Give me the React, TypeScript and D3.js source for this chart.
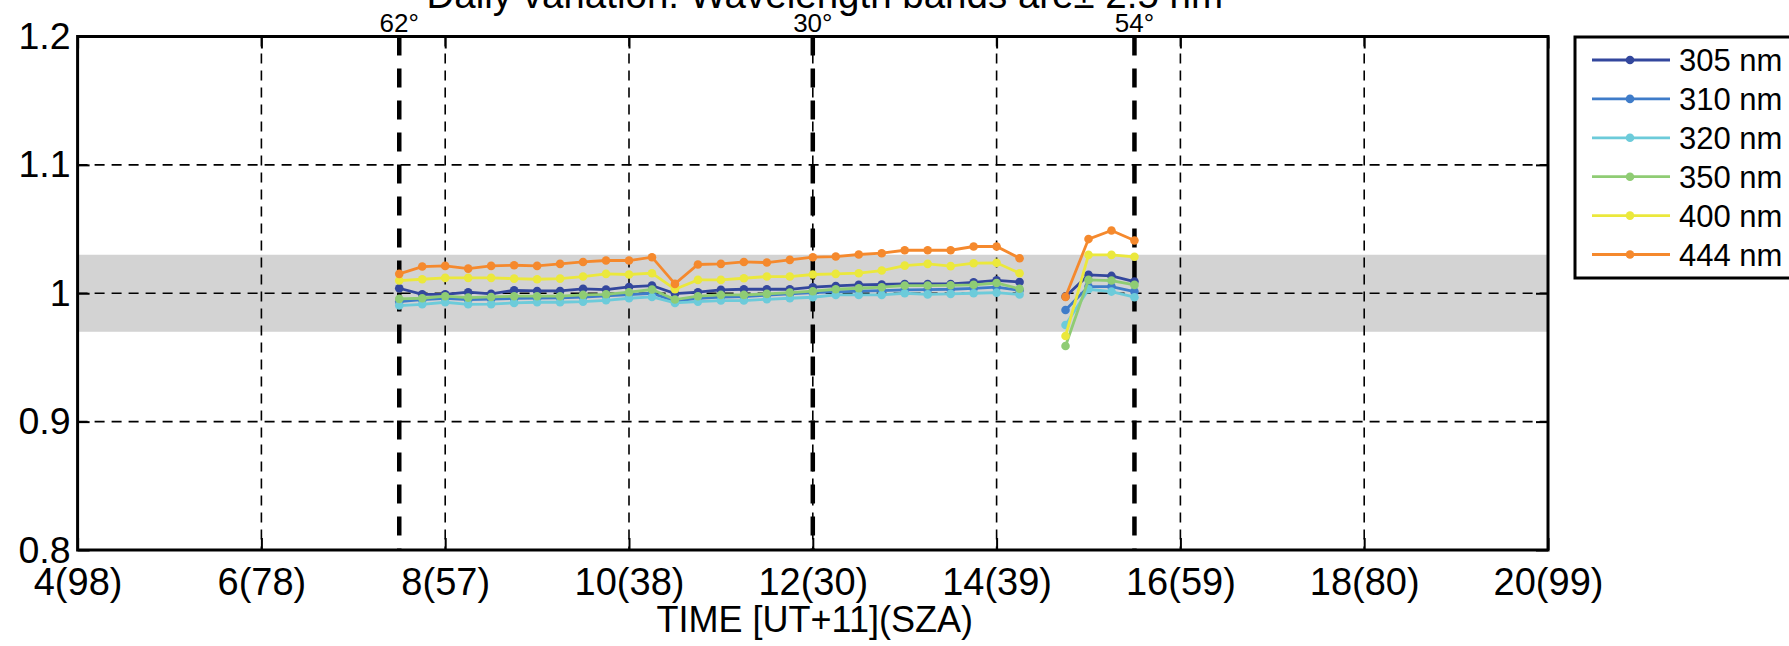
import React, { useEffect, useRef } from 'react'
import * as d3 from 'd3'

const W = 1789
const H = 646
const margin = { top: 36.5, right: 241, bottom: 96, left: 77.6 }
const FONT = '"Liberation Sans", Arial, Helvetica, sans-serif'

// local time of each scan, null value at 14.5 marks the gap between runs
const TIMES = [7.5, 7.75, 8, 8.25, 8.5, 8.75, 9, 9.25, 9.5, 9.75, 10, 10.25, 10.5, 10.75,
  11, 11.25, 11.5, 11.75, 12, 12.25, 12.5, 12.75, 13, 13.25, 13.5, 13.75, 14, 14.25,
  14.5, 14.75, 15, 15.25, 15.5]

const X_TICKS = [4, 6, 8, 10, 12, 14, 16, 18, 20]
const X_TICK_LABELS = ['4(98)', '6(78)', '8(57)', '10(38)', '12(30)', '14(39)', '16(59)', '18(80)', '20(99)']
const Y_TICKS = [0.8, 0.9, 1, 1.1, 1.2]
const SZA_TIMES = [7.5, 12, 15.5]
const SZA_LABELS = ['62°', '30°', '54°']
const BAND = [0.97, 1.03]

const NM_305 = [1.0039, 0.9992, 0.9992, 1.0008, 0.9995, 1.0023, 1.0018, 1.0018, 1.0034, 1.0029, 1.0049, 1.006, 0.9997, 1.0008,
  1.0026, 1.0031, 1.0031, 1.0031, 1.0047, 1.0057, 1.0065, 1.0068, 1.0072, 1.0072, 1.0072, 1.0085, 1.0101, 1.0087,
  null, 0.9975, 1.0143, 1.0135, 1.0091]
const NM_310 = [0.9935, 0.995, 0.996, 0.995, 0.9955, 0.996, 0.9962, 0.9965, 0.997, 0.998, 0.999, 1.0, 0.994, 0.996,
  0.997, 0.9974, 0.9985, 0.9995, 1.0005, 1.001, 1.0016, 1.0021, 1.0026, 1.0028, 1.0031, 1.0038, 1.0047, 1.0023,
  null, 0.987, 1.0052, 1.0052, 1.0013]
const NM_320 = [0.9904, 0.9914, 0.993, 0.9914, 0.9915, 0.9925, 0.993, 0.993, 0.9935, 0.9945, 0.9961, 0.9971, 0.9925, 0.9935,
  0.9943, 0.9943, 0.9953, 0.9961, 0.9969, 0.9987, 0.9987, 0.9987, 1.0, 0.9991, 0.9995, 1.0, 1.0005, 0.9991,
  null, 0.9753, 1.0031, 1.0013, 0.9969]
const NM_350 = [0.9956, 0.9961, 0.9977, 0.9966, 0.9971, 0.9977, 0.9977, 0.9977, 0.9987, 0.9992, 1.0008, 1.0029, 0.9951, 0.9977,
  0.9987, 0.9987, 0.9995, 1.0005, 1.0016, 1.0031, 1.0039, 1.0047, 1.006, 1.006, 1.0062, 1.0066, 1.008, 1.0035,
  null, 0.9589, 1.0104, 1.0099, 1.0065]
const NM_400 = [1.0099, 1.0109, 1.012, 1.012, 1.012, 1.0114, 1.0109, 1.0114, 1.013, 1.0151, 1.0146, 1.0156, 1.0031, 1.0104,
  1.0104, 1.0117, 1.013, 1.013, 1.0146, 1.0151, 1.0156, 1.0177, 1.0215, 1.0229, 1.0211, 1.0234, 1.0237, 1.0156,
  null, 0.9667, 1.0299, 1.0299, 1.0284]
const NM_444 = [1.0151, 1.0208, 1.0213, 1.0192, 1.0213, 1.0218, 1.0213, 1.0229, 1.0244, 1.0255, 1.0255, 1.0281, 1.0073, 1.0224,
  1.0229, 1.0244, 1.0239, 1.026, 1.0281, 1.0286, 1.0302, 1.0312, 1.0335, 1.0335, 1.0335, 1.0364, 1.0364, 1.0273,
  null, 0.9972, 1.0422, 1.0489, 1.0411]

const SERIES_NAMES = ['305 nm', '310 nm', '320 nm', '350 nm', '400 nm', '444 nm']
const SERIES_VALUES = [NM_305, NM_310, NM_320, NM_350, NM_400, NM_444]
const COLORS = ['#33479d', '#3f7cc9', '#6ccbda', '#8fcc74', '#ebe83c', '#f5892d']

export default function App() {
  const svgRef = useRef<SVGSVGElement>(null)

  useEffect(() => {
    const svg = d3.select(svgRef.current)
    svg.selectAll('*').remove()

    const chartW = W - margin.left - margin.right
    const chartH = H - margin.top - margin.bottom
    const x = d3.scaleLinear().domain([4, 20]).range([0, chartW])
    const y = d3.scaleLinear().domain([0.8, 1.2]).range([chartH, 0])

    // title, cut by the top of the figure like the original
    svg.append('text')
      .attr('x', margin.left + chartW / 2 + 12)
      .attr('y', 8)
      .attr('text-anchor', 'middle')
      .style('font-family', FONT)
      .style('font-size', '38.5px')
      .text('Daily variation. Wavelength bands are± 2.5 nm')

    const g = svg.append('g').attr('transform', `translate(${margin.left},${margin.top})`)

    // tolerance band
    g.append('rect')
      .attr('x', 0)
      .attr('width', chartW)
      .attr('y', y(BAND[1]))
      .attr('height', y(BAND[0]) - y(BAND[1]))
      .attr('fill', '#d3d3d3')

    // grid
    g.selectAll('.vgrid').data(X_TICKS.slice(1, -1)).enter()
      .append('line')
      .attr('x1', d => x(d)).attr('x2', d => x(d))
      .attr('y1', 0).attr('y2', chartH)
      .attr('stroke', '#000').attr('stroke-width', 1.6).attr('stroke-dasharray', '10,7')
    g.selectAll('.hgrid').data(Y_TICKS.slice(1, -1)).enter()
      .append('line')
      .attr('y1', d => y(d)).attr('y2', d => y(d))
      .attr('x1', 0).attr('x2', chartW)
      .attr('stroke', '#000').attr('stroke-width', 1.6).attr('stroke-dasharray', '10,7')

    // solar zenith angle markers
    g.selectAll('.sza').data(SZA_TIMES).enter()
      .append('line')
      .attr('x1', d => x(d)).attr('x2', d => x(d))
      .attr('y1', 0).attr('y2', chartH)
      .attr('stroke', '#000').attr('stroke-width', 4.5).attr('stroke-dasharray', '19,13')
    g.selectAll('.szaLabel').data(SZA_TIMES).enter()
      .append('text')
      .attr('x', d => x(d))
      .attr('y', -5)
      .attr('text-anchor', 'middle')
      .style('font-family', FONT)
      .style('font-size', '26px')
      .text((d, i) => SZA_LABELS[i])

    // series
    const pts = (vals: (number | null)[]) => TIMES.map((t, i) => ({ t, v: vals[i] }))
    const line = d3.line<{ t: number, v: number | null }>()
      .defined(d => d.v != null)
      .x(d => x(d.t))
      .y(d => y(d.v as number))

    SERIES_VALUES.forEach((vals, k) => {
      const data = pts(vals)
      g.append('path')
        .datum(data)
        .attr('fill', 'none')
        .attr('stroke', COLORS[k])
        .attr('stroke-width', 2.8)
        .attr('d', line)
      g.selectAll(`.dot${k}`).data(data.filter(d => d.v != null)).enter()
        .append('circle')
        .attr('cx', d => x(d.t))
        .attr('cy', d => y(d.v as number))
        .attr('r', 4.3)
        .attr('fill', COLORS[k])
    })

    // axes
    const styleAxis = (sel: d3.Selection<SVGGElement, unknown, null, undefined>) => {
      sel.select('.domain').remove()
      sel.selectAll('.tick line').attr('stroke', '#000').attr('stroke-width', 2)
      sel.selectAll('.tick text').style('font-family', FONT).style('font-size', '37.5px').attr('fill', '#000')
    }

    const xAxis = g.append('g').attr('transform', `translate(0,${chartH})`)
      .call(d3.axisBottom(x).tickValues(X_TICKS).tickSizeInner(-12).tickSizeOuter(0).tickPadding(18)
        .tickFormat((d, i) => X_TICK_LABELS[i]))
    styleAxis(xAxis as any)
    xAxis.selectAll('.tick text').attr('dy', '0.71em').style('font-size', '38px')

    const xTop = g.append('g')
      .call(d3.axisTop(x).tickValues(X_TICKS).tickSizeInner(-12).tickSizeOuter(0).tickFormat(() => ''))
    styleAxis(xTop as any)

    const yAxis = g.append('g')
      .call(d3.axisLeft(y).tickValues(Y_TICKS).tickSizeInner(-12).tickSizeOuter(0).tickPadding(7)
        .tickFormat(d => String(d)))
    styleAxis(yAxis as any)

    const yRight = g.append('g').attr('transform', `translate(${chartW},0)`)
      .call(d3.axisRight(y).tickValues(Y_TICKS).tickSizeInner(-12).tickSizeOuter(0).tickFormat(() => ''))
    styleAxis(yRight as any)

    g.append('rect')
      .attr('width', chartW).attr('height', chartH)
      .attr('fill', 'none').attr('stroke', '#000').attr('stroke-width', 3)

    svg.append('text')
      .attr('x', margin.left + chartW / 2 + 2)
      .attr('y', 632)
      .attr('text-anchor', 'middle')
      .style('font-family', FONT)
      .style('font-size', '36px')
      .text('TIME [UT+11](SZA)')

    // legend
    const lg = svg.append('g').attr('transform', 'translate(1575,37)')
    lg.append('rect')
      .attr('width', 260).attr('height', 241)
      .attr('fill', '#fff').attr('stroke', '#000').attr('stroke-width', 3)
    SERIES_NAMES.forEach((name, k) => {
      const cy = 23 + k * 38.9
      lg.append('line')
        .attr('x1', 17).attr('x2', 95).attr('y1', cy).attr('y2', cy)
        .attr('stroke', COLORS[k]).attr('stroke-width', 2.8)
      lg.append('circle').attr('cx', 55).attr('cy', cy).attr('r', 4.3).attr('fill', COLORS[k])
      lg.append('text')
        .attr('x', 104).attr('y', cy).attr('dy', '0.36em')
        .style('font-family', FONT)
        .style('font-size', '31px')
        .text(name)
    })
  }, [])

  return (
    <svg ref={svgRef} width={W} height={H}
      style={{ position: 'absolute', left: 0, top: 0, background: '#fff', display: 'block' }} />
  )
}
